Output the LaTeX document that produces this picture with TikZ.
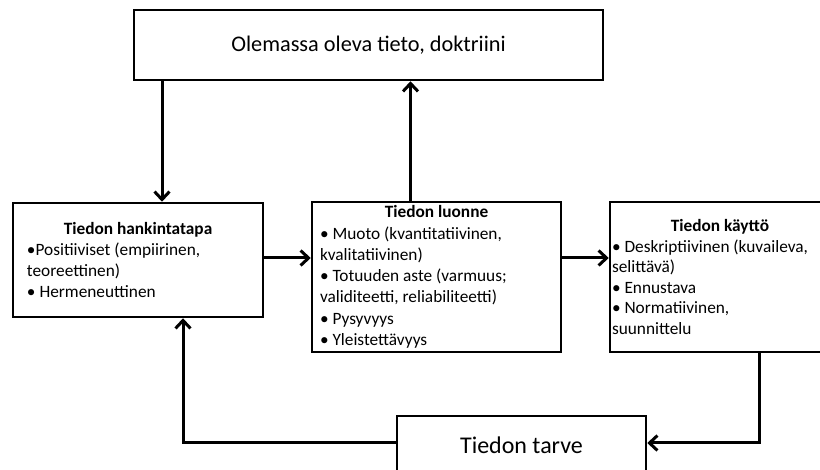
\documentclass[tikz,border=0pt]{standalone}
\usepackage{fontspec}
\setmainfont{Carlito}
\usetikzlibrary{arrows.meta}
\begin{document}
\begin{tikzpicture}[x=1pt,y=-1pt,
  box/.style={draw=black, line width=2.5pt, rectangle, inner ysep=0pt,
    align=flush left, font=\fontsize{17.3}{21.3}\selectfont},
  bigbox/.style={draw=black, line width=2.5pt, rectangle, inner sep=0pt,
    font=\fontsize{22.3}{26}\selectfont},
  arr/.style={line width=3pt, -{Straight Barb[length=8pt,width=15pt]}}]
\useasboundingbox (0,0) rectangle (820,470);
\clip (0,0) rectangle (820,470);

% upper box
\node[bigbox, minimum width=469pt, minimum height=70pt] (top) at (368.5,45)
  {Olemassa oleva tieto, doktriini};

% three content boxes
\node[box, minimum width=250pt, minimum height=114pt, inner xsep=14pt,
  text width=222pt] (hk) at (138,260)
  {{\centering\bfseries Tiedon hankintatapa\par}
   •Positiiviset (empiirinen,\\ teoreettinen)\\ • Hermeneuttinen};

\node[box, minimum width=249pt, minimum height=150pt, inner xsep=8pt,
  text width=233pt] (lu) at (436.5,277)
  {{\centering\bfseries Tiedon luonne\par}
   • Muoto (kvantitatiivinen,\\ kvalitatiivinen)\\
   • Totuuden aste (varmuus;\\ validiteetti, reliabiliteetti)\\
   • Pysyvyys\\ • Yleistettävyys};

\node[box, minimum width=220pt, minimum height=150pt, inner xsep=2pt,
  text width=216pt, font=\fontsize{17.3}{20.5}\selectfont] (ky) at (720,277)
  {{\centering\bfseries Tiedon käyttö\par}
   • Deskriptiivinen (kuvaileva,\\ selittävä)\\ • Ennustava\\
   • Normatiivinen,\\ suunnittelu};

% lower box
\node[bigbox, minimum width=249pt, minimum height=60pt,
  font=\fontsize{24}{28}\selectfont] (tarve) at (521.5,446)
  {\raisebox{2pt}{Tiedon tarve}};

% connectors
\draw[arr] ([xshift=24pt]hk.north |- top.south) -- ([xshift=24pt]hk.north);
\draw[arr] ([xshift=-26pt]lu.north) -- ([xshift=-26pt]lu.north |- top.south);
\draw[arr] ([yshift=2pt]hk.east) -- ([yshift=2pt]hk.east -| lu.west);
\draw[arr] ([yshift=2pt]hk.east -| lu.east) -- ([yshift=2pt]hk.east -| ky.west);
\draw[arr] ([xshift=39pt]ky.south) |- ([yshift=3pt]tarve.east);
\draw[arr] ([yshift=3pt]tarve.west) -| ([xshift=45pt]hk.south);
\end{tikzpicture}
\end{document}
